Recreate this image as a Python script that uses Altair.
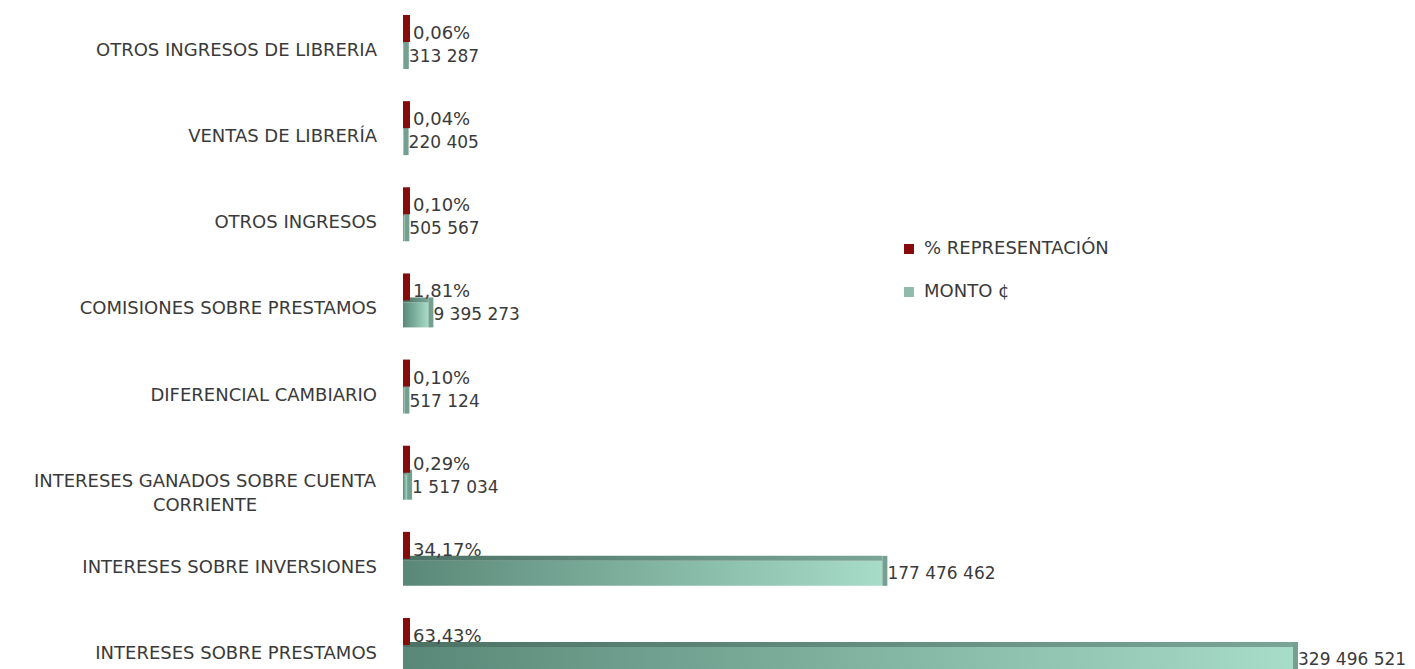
import altair as alt
import pandas as pd

# ---------------- data ----------------
categorias = [
    "OTROS INGRESOS DE LIBRERIA",
    "VENTAS DE LIBRERÍA",
    "OTROS INGRESOS",
    "COMISIONES SOBRE PRESTAMOS",
    "DIFERENCIAL CAMBIARIO",
    "INTERESES GANADOS SOBRE CUENTA CORRIENTE",
    "INTERESES SOBRE INVERSIONES",
    "INTERESES SOBRE PRESTAMOS",
]
monto = [313287, 220405, 505567, 9395273, 517124, 1517034, 177476462, 329496521]
porcentaje = [0.06, 0.04, 0.10, 1.81, 0.10, 0.29, 34.17, 63.43]
series = ["% REPRESENTACIÓN", "MONTO ¢"]

def fmt_monto(v):
    return f"{v:,}".replace(",", " ")

def fmt_pct(v):
    return f"{v:.2f}".replace(".", ",") + "%"

df = pd.DataFrame({
    "cat": categorias,
    "monto": monto,
    "pct": porcentaje,
    "lm": [fmt_monto(v) for v in monto],
    "lp": [fmt_pct(v) for v in porcentaje],
    "serie": series[0],
})

df_one = df[df["cat"] != "INTERESES GANADOS SOBRE CUENTA CORRIENTE"].copy()
df_two = pd.DataFrame({
    "cat": ["INTERESES GANADOS SOBRE CUENTA CORRIENTE"],
    "txt": [["INTERESES GANADOS SOBRE CUENTA", "CORRIENTE"]],
})

FONT = "DejaVu Sans"
TXT = "#3a3a3a"

xs = alt.Scale(domain=[0, max(monto)], nice=False, zero=True)
ys = alt.Scale(type="point", padding=0, domain=categorias)

X0 = alt.X("monto:Q", scale=xs, axis=None)
Y = alt.Y("cat:N", scale=ys, axis=None, sort=categorias)

base = alt.Chart(df)

grad_front = alt.Gradient(
    gradient="linear",
    stops=[alt.GradientStop(color="#5a8878", offset=0),
           alt.GradientStop(color="#a7dcc8", offset=1)],
    x1=0, x2=1, y1=0, y2=0,
)
grad_top = alt.Gradient(
    gradient="linear",
    stops=[alt.GradientStop(color="#4c7265", offset=0),
           alt.GradientStop(color="#7aa596", offset=1)],
    x1=0, x2=1, y1=0, y2=0,
)

front = base.mark_bar(height=25, yOffset=5.5, fill=grad_front).encode(
    x=alt.X("zero:Q", scale=xs, axis=None), x2="monto:Q", y=Y
).transform_calculate(zero="0")

top = base.mark_bar(height=5, yOffset=-9.5, fill=grad_top).encode(
    x=alt.X("zero:Q", scale=xs, axis=None), x2="monto:Q", y=Y
).transform_calculate(zero="0")

side = base.mark_tick(thickness=5, size=30, xOffset=2.5, yOffset=3, color="#74a091", opacity=1).encode(
    x=X0, y=Y
)

red = base.mark_tick(thickness=7, size=27, xOffset=3.5, yOffset=-22.5, opacity=1).encode(
    x=alt.X("pct:Q", scale=xs, axis=None),
    y=Y,
    color=alt.Color(
        "serie:N",
        scale=alt.Scale(domain=series, range=["#860b0b", "#8fbbad"]),
        legend=alt.Legend(
            title=None, orient="none", legendX=497, legendY=189,
            symbolType="square", symbolSize=100, symbolStrokeWidth=0,
            labelFont=FONT, labelFontSize=18, labelColor=TXT, labelLimit=0,
            labelOffset=6, rowPadding=25, padding=0,
        ),
    ),
)

lbl_pct = base.mark_text(align="left", baseline="middle", dx=10, dy=-17,
                         font=FONT, fontSize=18, color=TXT).encode(
    x=alt.X("pct:Q", scale=xs, axis=None), y=Y, text="lp:N"
)

lbl_monto = base.mark_text(align="left", baseline="middle", dx=5, dy=6,
                           font=FONT, fontSize=17, color=TXT).encode(
    x=X0, y=Y, text="lm:N"
)

cat_one = alt.Chart(df_one).mark_text(align="right", baseline="middle",
                                      font=FONT, fontSize=18, color=TXT).encode(
    x=alt.value(-26), y=Y, text="cat:N"
)

cat_two = alt.Chart(df_two).mark_text(align="center", baseline="middle", lineHeight=24,
                                      font=FONT, fontSize=18, color=TXT).encode(
    x=alt.value(-198), y=Y, text="txt"
)

chart = alt.layer(front, top, side, red, lbl_pct, lbl_monto, cat_one, cat_two).properties(
    width=890,
    height=603,
    autosize=alt.AutoSizeParams(type="none"),
    padding={"left": 395, "top": 43, "right": 114, "bottom": 15},
    background="white",
).configure_view(stroke=None)

chart.save("out.html", embed_options={"renderer": "svg", "actions": False})
